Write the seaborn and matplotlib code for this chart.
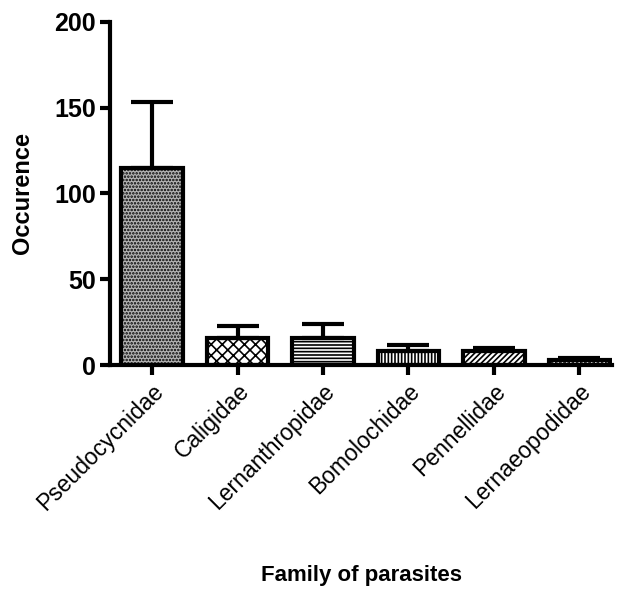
import numpy as np
import pandas as pd
import seaborn as sns
import matplotlib.pyplot as plt

# valeurs
families = ['Pseudocycnidae', 'Caligidae', 'Lernanthropidae',
            'Bomolochidae', 'Pennellidae', 'Lernaeopodidae']
occurence = [115, 16, 16, 8.5, 8, 3]
err_up = [38, 7, 8, 3, 2, 1]

hatches = ['.....', 'xxx', '-----', '|||||', '//////', '....']
faces = ['#b4b4b4', 'white', 'white', 'white', 'white', 'white']

df = pd.DataFrame({'family': families, 'occ': occurence})

sns.set_style('ticks')
plt.rcParams['font.family'] = ['Liberation Sans', 'DejaVu Sans']
plt.rcParams['text.color'] = 'black'
plt.rcParams['axes.labelcolor'] = 'black'
plt.rcParams['xtick.color'] = 'black'
plt.rcParams['ytick.color'] = 'black'
plt.rcParams['hatch.linewidth'] = 1.2

fig = plt.figure(figsize=(6.23, 5.89), dpi=100)
ax = fig.add_axes([0.177, 0.38, 0.805, 0.583])

sns.barplot(data=df, x='family', y='occ', color='white', width=0.72,
            edgecolor='black', linewidth=3, ax=ax, errorbar=None)

for patch, h, fc in zip(ax.patches, hatches, faces):
    patch.set_facecolor(fc)
    patch.set_hatch(h)

x = np.arange(len(families))
ax.errorbar(x, occurence, yerr=[np.zeros(len(x)), err_up], fmt='none',
            ecolor='black', elinewidth=3, capsize=15, capthick=3, zorder=1)

ax.set_ylim(0, 200)
ax.set_xlim(-0.49, 5.38)
ax.set_yticks([0, 50, 100, 150, 200])
ax.set_yticklabels(['0', '50', '100', '150', '200'], fontsize=18, fontweight='bold')
ax.set_xticks(x)
ax.set_xticklabels(families, rotation=45, ha='right', rotation_mode='anchor', fontsize=16.5)
ax.tick_params(axis='both', width=3, length=7, direction='out', colors='black')

for s in ['top', 'right']:
    ax.spines[s].set_visible(False)
for s in ['left', 'bottom']:
    ax.spines[s].set_linewidth(3)
    ax.spines[s].set_color('black')

ax.set_ylabel('Occurence', fontsize=17, fontweight='bold', labelpad=14)
ax.set_xlabel('Family of parasites', fontsize=16, fontweight='bold', labelpad=36)

plt.savefig('out.png', dpi=100)
